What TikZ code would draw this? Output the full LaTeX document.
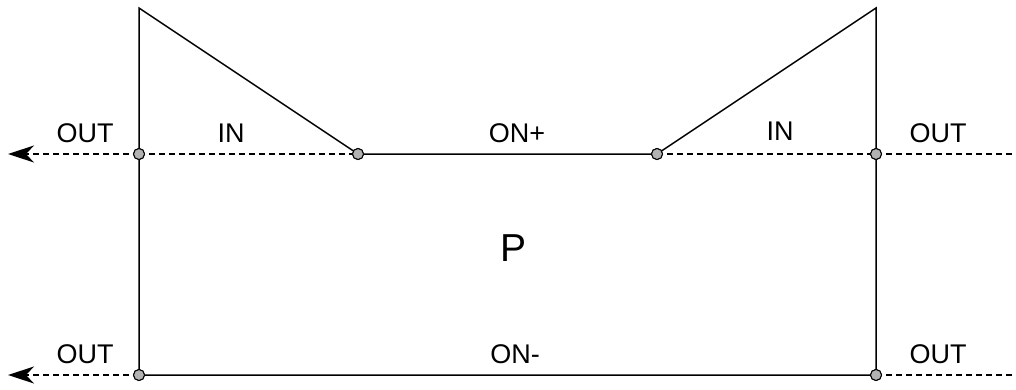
\documentclass[tikz,border=0pt]{standalone}
\usepackage{fontspec}
\setmainfont{Liberation Sans}
\usetikzlibrary{arrows.meta}
\begin{document}
\begin{tikzpicture}[x=1pt,y=-1pt,
  wire/.style={line width=1.5pt,black},
  dashwire/.style={wire,dash pattern=on 6pt off 4pt},
  outarrow/.style={dashwire,-{Stealth[length=26pt,width=17pt,inset=8pt]}},
  dot/.style={circle,draw=black,line width=1pt,fill=black!30,minimum size=11pt,inner sep=0pt},
  lbl/.style={font=\fontsize{27}{30}\selectfont,inner sep=0pt}]
\useasboundingbox (0,0) rectangle (1016,389);
% corner coordinates
\coordinate (TL) at (139,8);
\coordinate (TR) at (876,8);
\coordinate (LE) at (8,154);
\coordinate (RE) at (1016,154);
\coordinate (LEb) at (8,375);
\coordinate (REb) at (1016,375);
% dots
\node[dot] (L) at (139,154) {};
\node[dot] (A) at (358,154) {};
\node[dot] (B) at (657,154) {};
\node[dot] (R) at (876,154) {};
\node[dot] (LB) at (139,375) {};
\node[dot] (RB) at (876,375) {};
% solid outlines
\draw[wire] (LB.center) -- (L.center) -- (TL) -- (A.center) -- (B.center) -- (TR) -- (R.center) -- (RB.center) -- cycle;
% dashed lines
\draw[dashwire] (L.center) -- (A.center);
\draw[dashwire] (B.center) -- (R.center);
\draw[dashwire] (R.center) -- (RE);
\draw[dashwire] (RB.center) -- (REb);
\draw[outarrow] (L.center) -- (LE);
\draw[outarrow] (LB.center) -- (LEb);
% redraw dots on top
\foreach \n in {L,A,B,R,LB,RB} \node[dot] at (\n) {};
% labels
\node[lbl] (o1) at (85,133) {OUT};
\node[lbl] (i1) at (231,133) {IN};
\node[lbl] (onp) at (517,133) {ON+};
\node[lbl] (i2) at (780,131) {IN};
\node[lbl] (o2) at (938,133) {OUT};
\node[lbl,font=\fontsize{39}{42}\selectfont] (p) at (513,248) {P};
\node[lbl] (o3) at (85,354) {OUT};
\node[lbl] (onm) at (515,354) {ON-};
\node[lbl] (o4) at (938,354) {OUT};
\end{tikzpicture}
\end{document}
